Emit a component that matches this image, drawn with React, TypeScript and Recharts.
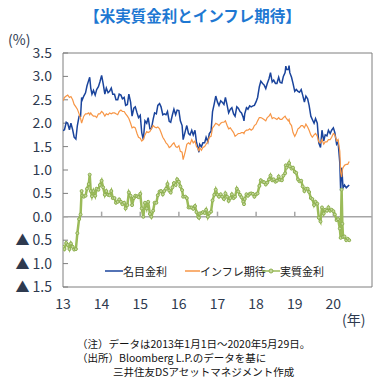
import { LineChart, Line, XAxis, YAxis, ReferenceLine, ReferenceArea } from 'recharts';

// semi-monthly readings (plus a few extra dates around sharp moves)
const dates = [
    '2013-01-01', '2013-01-15', '2013-02-01', '2013-02-15', '2013-03-01', '2013-03-15', '2013-04-01', '2013-04-15', '2013-05-01', '2013-05-15', '2013-06-01', '2013-06-15', '2013-06-25', '2013-07-01', '2013-07-15', '2013-08-01', '2013-08-15', '2013-09-01', '2013-09-10', '2013-09-20', '2013-10-01', '2013-10-15', '2013-11-01', '2013-11-15', '2013-12-01', '2013-12-15',
    '2014-01-01', '2014-01-15', '2014-02-01', '2014-02-15', '2014-03-01', '2014-03-15', '2014-04-01', '2014-04-15', '2014-05-01', '2014-05-15', '2014-06-01', '2014-06-15', '2014-07-01', '2014-07-15', '2014-08-01', '2014-08-15', '2014-09-01', '2014-09-15', '2014-10-01', '2014-10-15', '2014-11-01', '2014-11-15', '2014-12-01', '2014-12-15',
    '2015-01-01', '2015-01-15', '2015-01-30', '2015-02-15', '2015-03-01', '2015-03-15', '2015-04-01', '2015-04-15', '2015-05-01', '2015-05-15', '2015-06-01', '2015-06-15', '2015-07-01', '2015-07-15', '2015-08-01', '2015-08-15', '2015-09-01', '2015-09-15', '2015-10-01', '2015-10-15', '2015-11-01', '2015-11-15', '2015-12-01', '2015-12-15',
    '2016-01-01', '2016-01-15', '2016-02-01', '2016-02-11', '2016-03-01', '2016-03-15', '2016-04-01', '2016-04-15', '2016-05-01', '2016-05-15', '2016-06-01', '2016-06-15', '2016-07-01', '2016-07-08', '2016-07-15', '2016-08-01', '2016-08-15', '2016-09-01', '2016-09-15', '2016-10-01', '2016-10-15', '2016-11-01', '2016-11-15', '2016-12-01', '2016-12-15',
    '2017-01-01', '2017-01-15', '2017-02-01', '2017-02-15', '2017-03-01', '2017-03-15', '2017-04-01', '2017-04-15', '2017-05-01', '2017-05-15', '2017-06-01', '2017-06-15', '2017-07-01', '2017-07-15', '2017-08-01', '2017-08-15', '2017-09-01', '2017-09-08', '2017-09-15', '2017-10-01', '2017-10-15', '2017-11-01', '2017-11-15', '2017-12-01', '2017-12-15',
    '2018-01-01', '2018-01-15', '2018-02-01', '2018-02-15', '2018-03-01', '2018-03-15', '2018-04-01', '2018-04-15', '2018-05-01', '2018-05-15', '2018-06-01', '2018-06-15', '2018-07-01', '2018-07-15', '2018-08-01', '2018-08-15', '2018-09-01', '2018-09-15', '2018-10-01', '2018-10-08', '2018-10-15', '2018-11-01', '2018-11-08', '2018-11-15', '2018-12-01', '2018-12-15',
    '2019-01-01', '2019-01-15', '2019-02-01', '2019-02-15', '2019-03-01', '2019-03-15', '2019-04-01', '2019-04-15', '2019-05-01', '2019-05-15', '2019-06-01', '2019-06-15', '2019-07-01', '2019-07-15', '2019-08-01', '2019-08-15', '2019-09-01', '2019-09-15', '2019-10-01', '2019-10-15', '2019-11-01', '2019-11-15', '2019-12-01', '2019-12-15',
    '2020-01-01', '2020-01-15', '2020-02-01', '2020-02-15', '2020-03-01', '2020-03-09', '2020-03-18', '2020-03-25', '2020-04-01', '2020-04-15', '2020-05-01', '2020-05-15', '2020-05-29',
];

// 名目金利 (%)
const nominal = [
    1.84, 1.86, 2.02, 2.00, 1.86, 2.00, 1.86, 1.70, 1.66, 1.95, 2.15, 2.15, 2.55, 2.50, 2.58, 2.65, 2.80, 2.92, 2.98, 2.75, 2.62, 2.70, 2.60, 2.72, 2.78, 2.88,
    3.02, 2.85, 2.62, 2.75, 2.65, 2.68, 2.75, 2.62, 2.62, 2.50, 2.50, 2.62, 2.60, 2.52, 2.55, 2.38, 2.40, 2.62, 2.45, 2.15, 2.32, 2.35, 2.22, 2.12,
    2.17, 1.80, 1.65, 2.05, 2.00, 2.12, 1.88, 1.88, 2.08, 2.22, 2.20, 2.38, 2.42, 2.35, 2.18, 2.20, 2.18, 2.25, 2.04, 2.02, 2.18, 2.30, 2.18, 2.28,
    2.27, 2.05, 1.95, 1.65, 1.83, 1.95, 1.78, 1.75, 1.85, 1.75, 1.85, 1.60, 1.45, 1.38, 1.55, 1.50, 1.58, 1.58, 1.70, 1.60, 1.78, 1.83, 2.25, 2.42, 2.58,
    2.45, 2.38, 2.48, 2.45, 2.40, 2.55, 2.38, 2.22, 2.30, 2.33, 2.20, 2.15, 2.35, 2.32, 2.25, 2.22, 2.12, 2.05, 2.20, 2.33, 2.30, 2.37, 2.35, 2.37, 2.38,
    2.46, 2.55, 2.78, 2.90, 2.85, 2.82, 2.74, 2.85, 2.95, 3.08, 2.88, 2.92, 2.85, 2.85, 2.98, 2.87, 2.86, 3.00, 3.08, 3.22, 3.15, 3.15, 3.23, 3.08, 2.98, 2.85,
    2.68, 2.72, 2.68, 2.66, 2.72, 2.60, 2.45, 2.58, 2.52, 2.38, 2.15, 2.08, 2.00, 2.10, 2.00, 1.58, 1.48, 1.85, 1.62, 1.75, 1.73, 1.85, 1.78, 1.85,
    1.90, 1.80, 1.55, 1.60, 1.15, 0.55, 1.05, 0.85, 0.62, 0.68, 0.62, 0.65, 0.68,
];

// インフレ期待 (%)
const inflation = [
    2.48, 2.55, 2.58, 2.60, 2.55, 2.57, 2.50, 2.40, 2.35, 2.30, 2.20, 2.10, 2.00, 2.05, 2.15, 2.20, 2.20, 2.22, 2.18, 2.22, 2.18, 2.15, 2.15, 2.12, 2.20, 2.20,
    2.25, 2.22, 2.15, 2.20, 2.18, 2.22, 2.20, 2.22, 2.22, 2.20, 2.18, 2.25, 2.28, 2.25, 2.25, 2.20, 2.15, 2.10, 2.00, 1.90, 1.92, 1.90, 1.78, 1.70,
    1.68, 1.62, 1.65, 1.75, 1.82, 1.80, 1.82, 1.88, 1.95, 1.92, 1.90, 1.92, 1.88, 1.80, 1.70, 1.65, 1.58, 1.55, 1.48, 1.50, 1.55, 1.58, 1.50, 1.48,
    1.52, 1.40, 1.38, 1.22, 1.40, 1.55, 1.58, 1.55, 1.65, 1.58, 1.62, 1.50, 1.45, 1.40, 1.48, 1.42, 1.48, 1.50, 1.55, 1.60, 1.70, 1.72, 1.90, 1.95, 2.00,
    1.98, 1.95, 2.00, 2.02, 2.02, 2.05, 1.95, 1.88, 1.90, 1.85, 1.80, 1.72, 1.75, 1.78, 1.78, 1.80, 1.80, 1.78, 1.82, 1.85, 1.85, 1.88, 1.85, 1.88, 1.95,
    1.98, 2.05, 2.12, 2.12, 2.10, 2.08, 2.05, 2.12, 2.15, 2.20, 2.10, 2.12, 2.10, 2.08, 2.12, 2.08, 2.08, 2.12, 2.15, 2.12, 2.10, 2.05, 2.08, 2.00, 1.95, 1.80,
    1.72, 1.78, 1.88, 1.90, 1.95, 1.95, 1.90, 1.98, 1.92, 1.85, 1.75, 1.70, 1.75, 1.78, 1.72, 1.60, 1.58, 1.65, 1.55, 1.60, 1.60, 1.65, 1.65, 1.70,
    1.78, 1.75, 1.62, 1.65, 1.40, 0.95, 0.85, 1.00, 1.05, 1.10, 1.12, 1.12, 1.18,
];

// 実質金利 (%)
const real = [
    -0.64, -0.69, -0.56, -0.60, -0.69, -0.57, -0.64, -0.70, -0.69, -0.35, -0.05, 0.05, 0.55, 0.45, 0.43, 0.45, 0.60, 0.70, 0.90, 0.55, 0.44, 0.55, 0.45, 0.60, 0.58, 0.68,
    0.77, 0.63, 0.47, 0.55, 0.47, 0.46, 0.55, 0.40, 0.40, 0.30, 0.32, 0.37, 0.32, 0.27, 0.30, 0.18, 0.25, 0.52, 0.45, 0.25, 0.40, 0.45, 0.44, 0.42,
    0.49, 0.18, 0.00, 0.30, 0.18, 0.32, 0.06, 0.00, 0.13, 0.30, 0.30, 0.46, 0.54, 0.55, 0.48, 0.55, 0.60, 0.70, 0.56, 0.52, 0.63, 0.72, 0.68, 0.80,
    0.75, 0.65, 0.57, 0.43, 0.43, 0.40, 0.20, 0.20, 0.20, 0.17, 0.23, 0.10, 0.00, -0.02, 0.07, 0.08, 0.10, 0.08, 0.15, 0.00, 0.08, 0.11, 0.35, 0.47, 0.58,
    0.47, 0.43, 0.48, 0.43, 0.38, 0.50, 0.43, 0.34, 0.40, 0.48, 0.40, 0.43, 0.60, 0.54, 0.47, 0.42, 0.32, 0.27, 0.38, 0.48, 0.45, 0.49, 0.50, 0.49, 0.43,
    0.48, 0.50, 0.66, 0.78, 0.75, 0.74, 0.69, 0.73, 0.80, 0.88, 0.78, 0.80, 0.75, 0.77, 0.86, 0.79, 0.78, 0.88, 0.93, 1.10, 1.05, 1.10, 1.15, 1.08, 1.03, 1.05,
    0.96, 0.94, 0.80, 0.76, 0.77, 0.65, 0.55, 0.60, 0.60, 0.53, 0.40, 0.38, 0.25, 0.32, 0.28, -0.02, -0.10, 0.20, 0.07, 0.15, 0.13, 0.20, 0.13, 0.15,
    0.12, 0.05, -0.07, -0.05, -0.25, -0.45, 0.58, -0.15, -0.43, -0.42, -0.50, -0.47, -0.50,
];

const yearTicks = [2013, 2014, 2015, 2016, 2017, 2018, 2019, 2020];
const rateTicks = [-1.5, -1.0, -0.5, 0, 0.5, 1.0, 1.5, 2.0, 2.5, 3.0, 3.5];

const BLUE = '#1A449C';
const ORANGE = '#F79646';
const GREEN = '#9BBB59';
const FONT = '"Noto Sans CJK JP", "Noto Sans", sans-serif';
const AXIS_TEXT = '#2E3A4F';

const toYear = (d: string) => {
    const [y, m, day] = d.split('-').map(Number);
    return y + (m - 1) / 12 + (day - 1) / 365;
};

const data = dates.map((d, i) => ({
    t: toYear(d),
    nominal: nominal[i],
    inflation: inflation[i],
    real: real[i],
}));

const fmtRate = (v: number) => (v < 0 ? `▲ ${Math.abs(v).toFixed(1)}` : v.toFixed(1));

const legendItems = [
    { name: '名目金利', color: BLUE, seg: 18, left: 105 },
    { name: 'インフレ期待', color: ORANGE, seg: 15, left: 185 },
    { name: '実質金利', color: GREEN, seg: 18, left: 262, dot: true },
];

function ChartLegend() {
    return (
        <div style={{ position: 'absolute', left: 0, top: 263, width: 385, height: 16, fontSize: 11, color: '#222' }}>
            {legendItems.map((item) => (
                <div key={item.name} style={{ position: 'absolute', left: item.left, top: 0, display: 'flex', alignItems: 'center', height: 16 }}>
                    <svg width={item.seg} height={8}>
                        <line x1={0} y1={4} x2={item.seg} y2={4} stroke={item.color} strokeWidth={1.5} />
                        {item.dot && <circle cx={item.seg / 2} cy={4} r={2} fill="#C4D79B" stroke="#8DB050" strokeWidth={1} />}
                    </svg>
                    <span style={{ whiteSpace: 'nowrap' }}>{item.name}</span>
                </div>
            ))}
        </div>
    );
}

export default function App() {
    return (
        <div style={{ position: 'absolute', left: 0, top: 0, width: 385, height: 385, background: '#fff', fontFamily: FONT }}>
            <div style={{ position: 'absolute', top: 4, width: 385, textAlign: 'center', color: '#1E78D2', fontWeight: 'bold', fontSize: 15.5 }}>
                【米実質金利とインフレ期待】
            </div>
            <div style={{ position: 'absolute', left: 8, top: 29, fontSize: 14, color: AXIS_TEXT }}>(%)</div>
            <div style={{ position: 'absolute', left: 342, top: 309, fontSize: 14, color: AXIS_TEXT }}>(年)</div>

            <div style={{ position: 'absolute', left: 0, top: 0 }}>
                <LineChart width={385} height={385} data={data} margin={{ top: 53, right: 13, bottom: 68, left: 8 }}>
                    <XAxis
                        dataKey="t"
                        type="number"
                        domain={[2013, 2021]}
                        ticks={yearTicks}
                        tickFormatter={(v: number) => String(v).slice(2)}
                        tickLine={false}
                        axisLine={false}
                        tickMargin={6}
                        height={30}
                        tick={{ fill: AXIS_TEXT, fontSize: 14 }}
                        allowDataOverflow
                    />
                    <YAxis
                        type="number"
                        domain={[-1.5, 3.5]}
                        ticks={rateTicks}
                        tickFormatter={fmtRate}
                        tickLine={false}
                        axisLine={false}
                        tickMargin={5}
                        width={55}
                        tick={{ fill: AXIS_TEXT, fontSize: 14 }}
                        allowDataOverflow
                    />
                    <ReferenceArea x1={2013} x2={2021} y1={-1.5} y2={3.5} fill="none" stroke="#7F7F7F" strokeWidth={1} />
                    {rateTicks.map((v) => (
                        <ReferenceLine key={`yt-${v}`} segment={[{ x: 2013, y: v }, { x: 2013.13, y: v }]} stroke="#7F7F7F" />
                    ))}
                    <ReferenceLine y={0} stroke="#A6A6A6" strokeWidth={1.5} />
                    {yearTicks.slice(1).map((v) => (
                        <ReferenceLine key={`xt-${v}`} segment={[{ x: v, y: 0 }, { x: v, y: 0.11 }]} stroke="#A6A6A6" strokeWidth={1.5} />
                    ))}
                    <Line dataKey="nominal" stroke={BLUE} strokeWidth={1.5} dot={false} isAnimationActive={false} />
                    <Line dataKey="inflation" stroke={ORANGE} strokeWidth={1.2} dot={false} isAnimationActive={false} />
                    <Line
                        dataKey="real"
                        stroke={GREEN}
                        strokeWidth={2.5}
                        dot={{ r: 1.5, fill: '#C4D79B', stroke: '#8DB050', strokeWidth: 1 }}
                        isAnimationActive={false}
                    />
                </LineChart>
            </div>

            <ChartLegend />

            <div style={{ position: 'absolute', left: 77, top: 337, fontSize: 10.5, lineHeight: '14px', color: '#111' }}>
                <div>（注）データは2013年1月1日～2020年5月29日。</div>
                <div>（出所）Bloomberg L.P.のデータを基に</div>
                <div style={{ paddingLeft: 36 }}>三井住友DSアセットマネジメント作成</div>
            </div>
        </div>
    );
}
